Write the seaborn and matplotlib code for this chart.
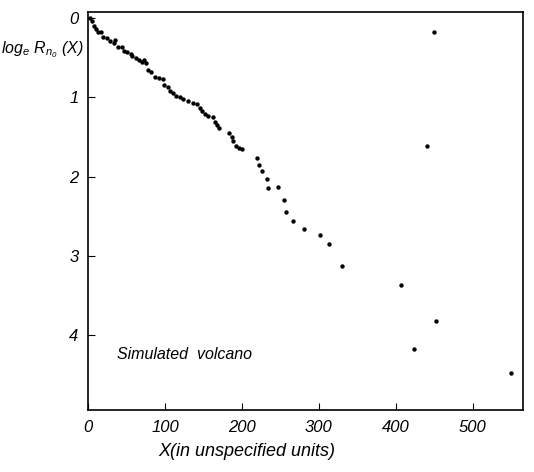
import numpy as np
import pandas as pd
import seaborn as sns
import matplotlib.pyplot as plt

# Values
x_vals = [3.0, 5.7, 7.6, 10.3, 13.3, 16.4, 20.0, 24.4, 28.8, 33.1, 35.3, 38.4,
          44.1, 47.2, 50.7, 55.1, 57.4, 61.7, 66.0, 70.5, 72.5, 74.8, 77.2, 81.5,
          86.9, 92.5, 97.0, 99.2, 104.4, 105.9, 110.3, 114.7, 119.0, 123.5, 130.0,
          136.6, 140.9, 145.3, 147.6, 151.9, 155.5, 162.9, 165.1, 167.4, 169.8,
          182.9, 187.2, 188.3, 191.8, 196.2, 200.5,
          219, 222, 226, 233, 234, 247, 254, 257, 266, 281, 301, 313, 330,
          407, 452, 423, 550, 449, 441]
logR_vals = [0.00, 0.04, 0.10, 0.14, 0.17, 0.18, 0.24, 0.25, 0.29, 0.32, 0.28, 0.36,
             0.36, 0.41, 0.43, 0.45, 0.48, 0.50, 0.53, 0.55, 0.53, 0.57, 0.65, 0.68,
             0.74, 0.76, 0.77, 0.84, 0.87, 0.92, 0.95, 0.98, 1.00, 1.02, 1.04,
             1.07, 1.08, 1.13, 1.17, 1.21, 1.24, 1.25, 1.31, 1.35, 1.39,
             1.45, 1.50, 1.55, 1.62, 1.64, 1.65,
             1.76, 1.85, 1.93, 2.03, 2.14, 2.13, 2.29, 2.45, 2.56, 2.66, 2.74, 2.85, 3.13,
             3.37, 3.82, 4.18, 4.48, 0.17, 1.61]

x_ticks = [0, 100, 200, 300, 400, 500]
y_ticks = [0, 1, 2, 3, 4]

df = pd.DataFrame({'X': x_vals, 'logR': logR_vals})

sns.set_style('ticks')
fonts = ['Liberation Sans Narrow', 'Liberation Sans', 'DejaVu Sans']
plt.rcParams['font.family'] = fonts
plt.rcParams['font.style'] = 'italic'
plt.rcParams['text.color'] = 'black'
plt.rcParams['axes.labelcolor'] = 'black'
plt.rcParams['xtick.color'] = 'black'
plt.rcParams['ytick.color'] = 'black'
plt.rcParams['mathtext.fontset'] = 'custom'
plt.rcParams['mathtext.it'] = 'Liberation Sans:italic'
plt.rcParams['mathtext.rm'] = 'Liberation Sans:italic'

fig = plt.figure(figsize=(5.34, 4.72), dpi=100)
ax = fig.add_axes([0.165, 0.131, 0.814, 0.844])

sns.scatterplot(data=df, x='X', y='logR', ax=ax, color='black', s=10,
                edgecolor=None, linewidth=0)

ax.set_xlim(0, 565)
ax.set_ylim(4.95, -0.08)
ax.set_xticks(x_ticks)
ax.set_yticks(y_ticks)
ax.tick_params(direction='in', length=5, width=0.8, labelsize=12, pad=7)
for sp in ax.spines.values():
    sp.set_visible(True)
    sp.set_linewidth(1.2)
    sp.set_color('black')

ax.set_xlabel('X(in unspecified units)', fontsize=13)
ax.set_ylabel('')
ax.xaxis.set_label_coords(0.365, -0.082)
ax.text(-0.2, 0.905, r'log$_e$ R$_{n_0}$ (X)', transform=ax.transAxes,
        ha='left', va='center', fontsize=11.5)

ax.text(38, 4.25, 'Simulated  volcano', ha='left', va='center', fontsize=11.5)

plt.savefig('out.png', dpi=100)
